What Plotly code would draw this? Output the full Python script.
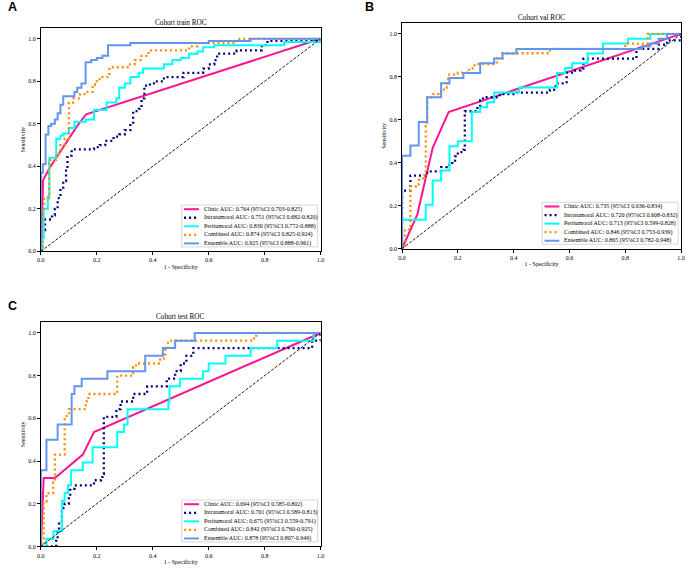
import plotly.graph_objects as go

# ---------------- DATA ----------------
models = ["Clinic", "Intratumoral", "Peritumoral", "Combined", "Ensemble"]
cohorts = ["train", "val", "test"]
tick_vals = [0.0, 0.2, 0.4, 0.6, 0.8, 1.0]
chance_line = [0.0, 1.0]

train_auc = [0.764, 0.751, 0.830, 0.874, 0.925]
train_ci_low = [0.703, 0.682, 0.772, 0.825, 0.888]
train_ci_high = [0.825, 0.820, 0.888, 0.924, 0.961]
val_auc = [0.735, 0.720, 0.713, 0.846, 0.865]
val_ci_low = [0.636, 0.608, 0.599, 0.753, 0.782]
val_ci_high = [0.834, 0.832, 0.828, 0.939, 0.948]
test_auc = [0.694, 0.701, 0.675, 0.842, 0.878]
test_ci_low = [0.585, 0.589, 0.559, 0.760, 0.807]
test_ci_high = [0.802, 0.813, 0.791, 0.925, 0.949]

# train cohort
train_clinic_fpr = [0, 0.008, 0.03, 0.06, 0.10, 0.13, 0.162, 1.0]
train_clinic_tpr = [0, 0.335, 0.39, 0.45, 0.53, 0.59, 0.645, 1.0]
train_intra_fpr = [0, 0.005, 0.015, 0.04, 0.05, 0.06, 0.07, 0.08, 0.09, 0.095, 0.11, 0.19, 0.21, 0.23, 0.26, 0.28,
                   0.30, 0.32, 0.33, 0.35, 0.36, 0.37, 0.39, 0.41, 0.44, 0.51, 0.58, 0.60, 0.62, 0.63, 0.70, 0.79, 0.81, 1.0]
train_intra_tpr = [0, 0.10, 0.15, 0.17, 0.20, 0.25, 0.30, 0.33, 0.38, 0.45, 0.48, 0.49, 0.50, 0.52, 0.54, 0.55,
                   0.57, 0.60, 0.66, 0.67, 0.72, 0.78, 0.79, 0.80, 0.82, 0.84, 0.86, 0.88, 0.90, 0.93, 0.945, 0.97, 0.99, 1.0]
train_peri_fpr = [0, 0.005, 0.01, 0.025, 0.03, 0.055, 0.07, 0.08, 0.10, 0.12, 0.16, 0.19, 0.235, 0.27, 0.28, 0.30,
                  0.32, 0.35, 0.365, 0.44, 0.47, 0.50, 0.53, 0.56, 0.58, 0.62, 0.87, 1.0]
train_peri_tpr = [0, 0.06, 0.20, 0.25, 0.44, 0.53, 0.545, 0.555, 0.58, 0.61, 0.62, 0.665, 0.70, 0.72, 0.77, 0.79,
                  0.82, 0.84, 0.86, 0.88, 0.90, 0.91, 0.93, 0.94, 0.96, 0.97, 0.985, 1.0]
train_comb_fpr = [0, 0.005, 0.012, 0.025, 0.03, 0.055, 0.07, 0.085, 0.10, 0.115, 0.14, 0.16, 0.185, 0.20, 0.22,
                  0.245, 0.31, 0.335, 0.36, 0.385, 0.53, 0.56, 0.70, 1.0]
train_comb_tpr = [0, 0.19, 0.25, 0.26, 0.43, 0.46, 0.50, 0.53, 0.70, 0.72, 0.74, 0.75, 0.785, 0.81, 0.82,
                  0.866, 0.88, 0.90, 0.92, 0.945, 0.964, 0.98, 1.0, 1.0]
train_ens_fpr = [0, 0, 0.007, 0.017, 0.027, 0.037, 0.05, 0.06, 0.07, 0.08, 0.12, 0.13, 0.145, 0.16, 0.18, 0.20,
                 0.22, 0.24, 0.32, 0.60, 0.75, 1.0]
train_ens_tpr = [0, 0.37, 0.41, 0.55, 0.59, 0.60, 0.62, 0.65, 0.69, 0.73, 0.75, 0.77, 0.79, 0.89, 0.90, 0.91,
                 0.92, 0.97, 0.98, 0.99, 1.0, 1.0]

# val cohort
val_clinic_fpr = [0, 0.055, 0.085, 0.11, 0.167, 1.0]
val_clinic_tpr = [0, 0.16, 0.33, 0.47, 0.636, 1.0]
val_intra_fpr = [0, 0, 0.03, 0.09, 0.14, 0.16, 0.18, 0.19, 0.20, 0.22, 0.225, 0.27, 0.28, 0.29, 0.35, 0.41, 0.53,
                 0.55, 0.59, 0.62, 0.64, 0.65, 0.84, 0.84, 0.92, 0.95, 1.0]
val_intra_tpr = [0, 0.27, 0.34, 0.36, 0.38, 0.39, 0.41, 0.43, 0.45, 0.46, 0.64, 0.66, 0.69, 0.705, 0.72, 0.727, 0.74,
                 0.77, 0.82, 0.83, 0.84, 0.885, 0.91, 0.93, 0.95, 0.97, 1.0]
val_peri_fpr = [0, 0, 0.085, 0.11, 0.14, 0.17, 0.20, 0.25, 0.28, 0.305, 0.33, 0.42, 0.555, 0.585, 0.61, 0.665,
                0.72, 0.81, 0.89, 1.0]
val_peri_tpr = [0, 0.135, 0.205, 0.318, 0.364, 0.477, 0.50, 0.636, 0.659, 0.682, 0.727, 0.75, 0.818, 0.841, 0.864,
                0.909, 0.955, 0.977, 1.0, 1.0]
val_comb_fpr = [0, 0.01, 0.03, 0.05, 0.06, 0.075, 0.08, 0.085, 0.09, 0.11, 0.13, 0.15, 0.16, 0.165, 0.20, 0.24,
                0.26, 0.34, 0.36, 0.53, 0.80, 0.88, 1.0]
val_comb_tpr = [0, 0.09, 0.29, 0.30, 0.32, 0.34, 0.36, 0.57, 0.705, 0.72, 0.73, 0.75, 0.77, 0.81, 0.82, 0.84,
                0.86, 0.886, 0.91, 0.93, 0.955, 1.0, 1.0]
val_ens_fpr = [0, 0, 0.03, 0.06, 0.09, 0.14, 0.17, 0.22, 0.28, 0.33, 0.36, 0.41, 0.86, 0.89, 0.92, 0.95, 1.0]
val_ens_tpr = [0, 0.433, 0.48, 0.59, 0.705, 0.77, 0.795, 0.818, 0.864, 0.886, 0.909, 0.93, 0.943, 0.955, 0.977,
               1.0, 1.0]

# test cohort
test_clinic_fpr = [0, 0.01, 0.05, 0.15, 0.19, 1.0]
test_clinic_tpr = [0, 0.32, 0.32, 0.43, 0.536, 1.0]
test_intra_fpr = [0, 0.055, 0.06, 0.065, 0.075, 0.085, 0.10, 0.105, 0.12, 0.19, 0.215, 0.22, 0.225, 0.27, 0.285,
                  0.33, 0.38, 0.45, 0.48, 0.50, 0.52, 0.545, 0.97, 1.0]
test_intra_tpr = [0, 0.036, 0.071, 0.107, 0.18, 0.20, 0.23, 0.27, 0.286, 0.31, 0.32, 0.34, 0.607, 0.643, 0.679,
                  0.714, 0.75, 0.786, 0.821, 0.857, 0.893, 0.929, 0.964, 1.0]
test_peri_fpr = [0, 0.02, 0.045, 0.075, 0.085, 0.097, 0.108, 0.15, 0.185, 0.273, 0.297, 0.31, 0.456, 0.46, 0.497,
                 0.58, 0.60, 0.66, 0.75, 0.845, 0.975, 1.0]
test_peri_tpr = [0, 0.036, 0.071, 0.214, 0.25, 0.286, 0.357, 0.393, 0.464, 0.536, 0.571, 0.643, 0.679, 0.75, 0.786,
                 0.821, 0.857, 0.893, 0.929, 0.964, 1.0, 1.0]
test_comb_fpr = [0, 0.01, 0.02, 0.044, 0.05, 0.085, 0.10, 0.16, 0.17, 0.273, 0.33, 0.34, 0.426, 0.44, 0.445,
                 0.455, 0.762, 0.77, 1.0]
test_comb_tpr = [0, 0.21, 0.25, 0.30, 0.43, 0.61, 0.643, 0.68, 0.714, 0.80, 0.84, 0.857, 0.875, 0.90, 0.93,
                 0.964, 0.98, 1.0, 1.0]
test_ens_fpr = [0, 0, 0.02, 0.06, 0.11, 0.12, 0.146, 0.238, 0.373, 0.436, 0.48, 0.55, 1.0]
test_ens_tpr = [0, 0.357, 0.50, 0.571, 0.714, 0.75, 0.786, 0.821, 0.893, 0.929, 0.964, 1.0, 1.0]

# ---------------- STYLE / LAYOUT ----------------
W, H = 691, 569
SERIF = "Liberation Serif, Times New Roman, serif"
colors = ["#FF1493", "#000080", "#00FFFF", "#FF8C00", "#6495ED"]
dashes = ["solid", "2px,3px", "solid", "2px,3px", "solid"]
shapes_line = ["linear", "hv", "hv", "hv", "hv"]
widths = [2, 2.3, 2, 2.3, 2]

curves = {
    "train": [(train_clinic_fpr, train_clinic_tpr), (train_intra_fpr, train_intra_tpr),
              (train_peri_fpr, train_peri_tpr), (train_comb_fpr, train_comb_tpr), (train_ens_fpr, train_ens_tpr)],
    "val": [(val_clinic_fpr, val_clinic_tpr), (val_intra_fpr, val_intra_tpr),
            (val_peri_fpr, val_peri_tpr), (val_comb_fpr, val_comb_tpr), (val_ens_fpr, val_ens_tpr)],
    "test": [(test_clinic_fpr, test_clinic_tpr), (test_intra_fpr, test_intra_tpr),
             (test_peri_fpr, test_peri_tpr), (test_comb_fpr, test_comb_tpr), (test_ens_fpr, test_ens_tpr)],
}
stats = {
    "train": (train_auc, train_ci_low, train_ci_high),
    "val": (val_auc, val_ci_low, val_ci_high),
    "test": (test_auc, test_ci_low, test_ci_high),
}
# axes pixel boxes: left, top, right, bottom
boxes = {
    "train": (37.3, 28.3, 320.3, 252.7),
    "val": (402.7, 23.3, 685.0, 250.0),
    "test": (37.3, 324.0, 320.3, 549.3),
}
panel_letters = {"train": ("A", 2, 7.5), "val": ("B", 363, 7.5), "test": ("C", 2, 307.5)}


def fx(px):
    return px / W


def fy(py):
    return 1 - py / H


fig = go.Figure()
layout = dict(width=W, height=H, margin=dict(l=0, r=0, t=0, b=0),
              paper_bgcolor="white", plot_bgcolor="white", showlegend=False)
annotations = []
shapes = []

for i, c in enumerate(cohorts):
    sfx = "" if i == 0 else str(i + 1)
    xa, ya = "x" + sfx, "y" + sfx
    l, t, r, b = boxes[c]
    axis_common = dict(showgrid=False, zeroline=False, showline=True, mirror=True,
                       linecolor="black", linewidth=0.8, ticks="outside", ticklen=3,
                       tickwidth=0.8, tickcolor="black", tickvals=tick_vals, tickformat=".1f",
                       tickfont=dict(family=SERIF, size=6, color="black"))
    layout["xaxis" + sfx] = dict(axis_common, domain=[fx(l), fx(r)], range=[0, 1], anchor=ya,
                                 title=dict(text="1 - Specificity", font=dict(family=SERIF, size=6, color="black"),
                                            standoff=2))
    layout["yaxis" + sfx] = dict(axis_common, domain=[fy(b), fy(t)], range=[0, 1.05], anchor=xa,
                                 title=dict(text="Sensitivity", font=dict(family=SERIF, size=6, color="black"),
                                            standoff=2))
    for k, m in enumerate(models):
        fpr, tpr = curves[c][k]
        fig.add_trace(go.Scatter(x=fpr, y=tpr, mode="lines", xaxis=xa, yaxis=ya, hoverinfo="skip",
                                 line=dict(color=colors[k], width=widths[k], dash=dashes[k],
                                           shape=shapes_line[k])))
    fig.add_trace(go.Scatter(x=chance_line, y=chance_line, mode="lines", xaxis=xa, yaxis=ya, hoverinfo="skip",
                             line=dict(color="black", width=0.9, dash="3px,1.6px")))

    # title
    annotations.append(dict(text="Cohort %s ROC" % c, xref="paper", yref="paper", x=fx((l + r) / 2),
                            y=fy(t - 5), xanchor="center", yanchor="middle", showarrow=False,
                            font=dict(family=SERIF, size=7.2, color="black")))
    # panel letter
    letter, lx, ly = panel_letters[c]
    annotations.append(dict(text="<b>%s</b>" % letter, xref="paper", yref="paper", x=fx(lx), y=fy(ly),
                            xanchor="left", yanchor="middle", showarrow=False,
                            font=dict(family="Liberation Sans, Arial, sans-serif", size=12.5, color="black")))

    # legend (manual, matplotlib style)
    auc, lo, hi = stats[c]
    box_r = r - 3
    box_l = box_r - 137.5
    box_b = b - 4.5
    last_entry = b - 8.0
    spacing = 8.6
    box_t = last_entry - 4 * spacing - 4.2
    shapes.append(dict(type="rect", xref="paper", yref="paper", x0=fx(box_l), x1=fx(box_r),
                       y0=fy(box_b), y1=fy(box_t), line=dict(color="#cccccc", width=0.8),
                       fillcolor="rgba(255,255,255,0.8)", layer="above"))
    for k, m in enumerate(models):
        yy = last_entry - (4 - k) * spacing
        shapes.append(dict(type="line", xref="paper", yref="paper", x0=fx(box_l + 2.4), x1=fx(box_l + 17.4),
                           y0=fy(yy), y1=fy(yy), layer="above",
                           line=dict(color=colors[k], width=widths[k], dash=dashes[k])))
        label = "%s AUC: %.3f (95%%CI %.3f-%.3f)" % (m, auc[k], lo[k], hi[k])
        annotations.append(dict(text=label, xref="paper", yref="paper", x=fx(box_l + 20.5), y=fy(yy),
                                xanchor="left", yanchor="middle", showarrow=False,
                                font=dict(family=SERIF, size=6, color="black")))

layout["annotations"] = annotations
layout["shapes"] = shapes
fig.update_layout(**layout)
fig.write_html("out.html")
